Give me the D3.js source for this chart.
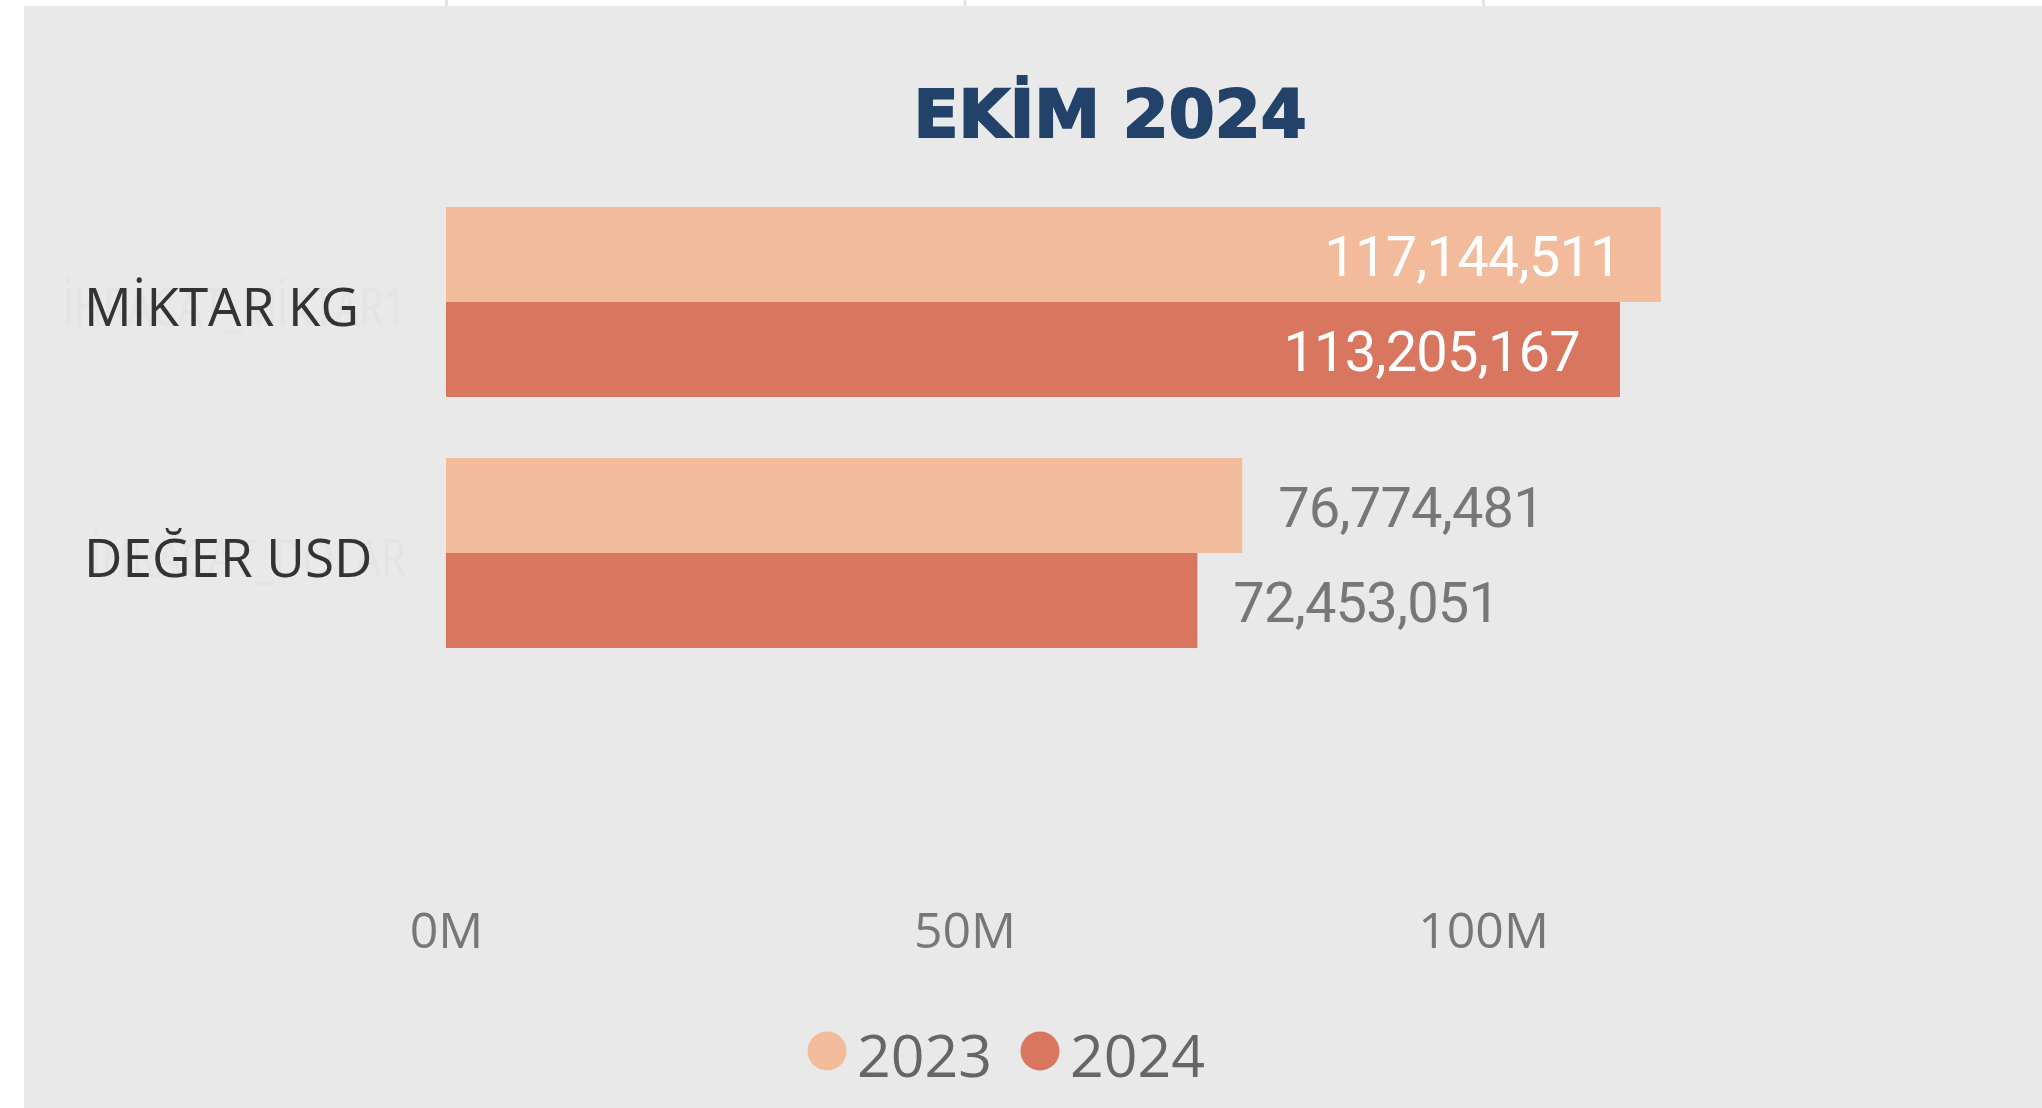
<!DOCTYPE html>
<html>
<head>
<meta charset="utf-8">
<script src="https://cdn.jsdelivr.net/npm/d3@7"></script>
<style>
  body { margin: 0; background: #fff; }
</style>
</head>
<body>
<div id="chart"></div>
<script>
const categories = ["MİKTAR KG", "DEĞER USD"];
const ghostLabels = ["İHRACAT_MİKTAR1", "İHRACAT_DOLAR"];
const years = ["2023", "2024"];
const values2023 = [117144511, 76774481];
const values2024 = [113205167, 72453051];
const tickValues = [0, 50e6, 100e6];
const title = "EKİM 2024";

const width = 2042, height = 1108;
const colors = { "2023": "#f2bb9c", "2024": "#d97660" };

const svg = d3.select("#chart").append("svg")
    .attr("width", width)
    .attr("height", height);

const x = d3.scaleLinear()
    .domain([0, 140e6])
    .range([446, 446 + 2.8 * 518.5]);

const y = d3.scaleBand()
    .domain(categories)
    .range([207, 648])
    .paddingInner(0.243)
    .paddingOuter(0);

const ySub = d3.scaleBand()
    .domain(years)
    .range([0, y.bandwidth()]);

// faint gridlines peeking out above the panel
svg.append("g")
    .call(d3.axisBottom(x).tickValues(tickValues).tickSize(8).tickFormat(""))
    .call(g => g.select(".domain").remove())
    .call(g => g.selectAll("line").attr("stroke", "#e4e4e4").attr("stroke-width", 3));

// grey panel
svg.append("rect")
    .attr("x", 24).attr("y", 6)
    .attr("width", width - 24).attr("height", height - 6)
    .attr("fill", "#e9e9e9");

svg.append("text")
    .attr("x", 1110).attr("y", 137)
    .attr("text-anchor", "middle")
    .attr("font-family", "DejaVu Sans")
    .attr("font-weight", "bold")
    .attr("font-size", 66)
    .attr("fill", "#23426a")
    .attr("stroke", "#23426a")
    .attr("stroke-width", 2)
    .text(title);

const rows = categories.map((c, i) => ({
    cat: c,
    ghost: ghostLabels[i],
    bars: [
        { year: "2023", value: values2023[i] },
        { year: "2024", value: values2024[i] }
    ]
}));

// category labels (with faint ghost text behind)
const labels = svg.append("g");
labels.selectAll("text.ghost")
    .data(rows)
    .join("text")
    .attr("class", "ghost")
    .attr("x", 406)
    .attr("y", d => y(d.cat) + y.bandwidth() / 2)
    .attr("dy", "0.45em")
    .attr("text-anchor", "end")
    .attr("font-family", "Open Sans")
    .attr("font-size", 53)
    .attr("fill", "#e4e4e4")
    .attr("textLength", (d, i) => i === 0 ? 343 : 316)
    .attr("lengthAdjust", "spacingAndGlyphs")
    .text(d => d.ghost);

labels.selectAll("text.cat")
    .data(rows)
    .join("text")
    .attr("class", "cat")
    .attr("x", 84)
    .attr("y", d => y(d.cat) + y.bandwidth() / 2)
    .attr("dy", "0.45em")
    .attr("font-family", "Open Sans")
    .attr("font-size", 53)
    .attr("fill", "#333")
    .text(d => d.cat);

const groups = svg.append("g").selectAll("g")
    .data(rows)
    .join("g")
    .attr("transform", d => `translate(0,${y(d.cat)})`);

groups.selectAll("rect")
    .data(d => d.bars)
    .join("rect")
    .attr("x", x(0))
    .attr("y", d => ySub(d.year))
    .attr("width", d => x(d.value) - x(0))
    .attr("height", ySub.bandwidth())
    .attr("fill", d => colors[d.year]);

const fmt = d3.format(",d");
groups.selectAll("text")
    .data(d => d.bars)
    .join("text")
    .each(function (d) {
        const inside = d.value > 100e6;
        d3.select(this)
            .attr("x", inside ? x(d.value) - 40 : x(d.value) + 36)
            .attr("text-anchor", inside ? "end" : "start")
            .attr("fill", inside ? "#fff" : "#777");
    })
    .attr("y", d => ySub(d.year) + ySub.bandwidth() / 2)
    .attr("dy", "0.38em")
    .attr("font-family", "Roboto")
    .attr("font-size", 56)
    .attr("letter-spacing", -0.8)
    .text(d => fmt(d.value));

// x axis labels
svg.append("g")
    .attr("transform", "translate(0,948)")
    .call(d3.axisBottom(x).tickValues(tickValues).tickSize(0).tickPadding(0)
        .tickFormat(d => d / 1e6 + "M"))
    .call(g => g.select(".domain").remove())
    .call(g => g.selectAll("text")
        .attr("dy", 0)
        .attr("font-family", "Open Sans")
        .attr("font-size", 50)
        .attr("fill", "#777"));

// legend
const legendX = [827, 1040];
const legend = svg.append("g").selectAll("g")
    .data(years)
    .join("g")
    .attr("transform", (d, i) => `translate(${legendX[i]},1051)`);

legend.append("circle")
    .attr("r", 19.5)
    .attr("fill", d => colors[d]);

legend.append("text")
    .attr("x", 30)
    .attr("y", 26)
    .attr("font-family", "Open Sans")
    .attr("font-size", 59)
    .attr("fill", "#666")
    .text(d => d);
</script>
</body>
</html>
